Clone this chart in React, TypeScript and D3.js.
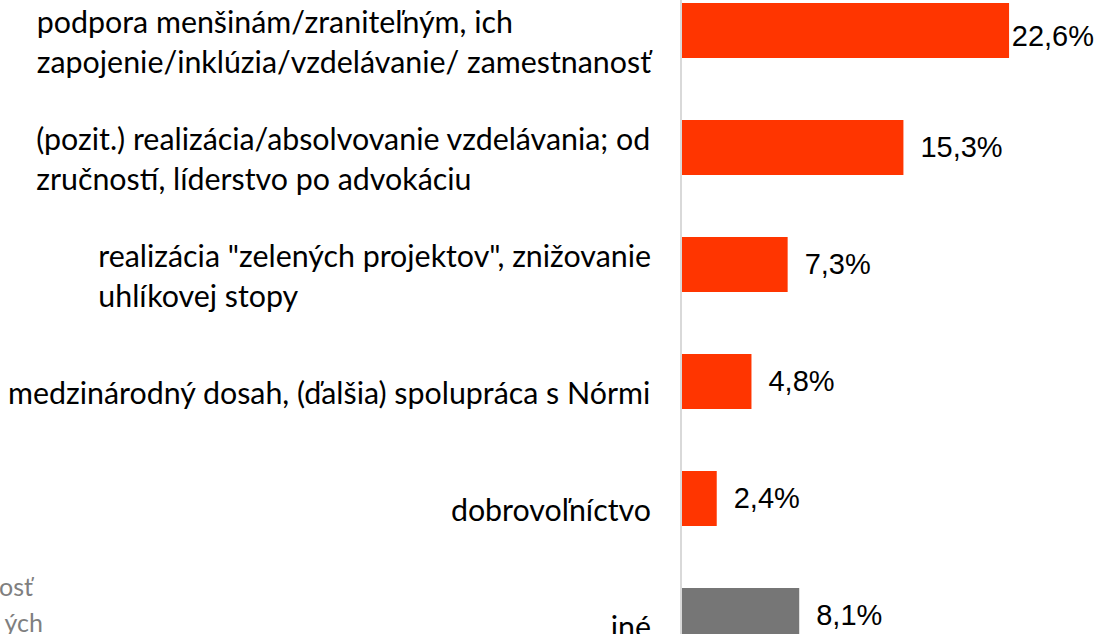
import React from "react";
import * as d3 from "d3";

const categories: string[][] = [
  ["podpora menšinám/zraniteľným, ich", "zapojenie/inklúzia/vzdelávanie/ zamestnanosť"],
  ["(pozit.) realizácia/absolvovanie vzdelávania; od", "zručností, líderstvo po advokáciu"],
  ["realizácia \"zelených projektov\", znižovanie", "uhlíkovej stopy"],
  ["medzinárodný dosah, (ďalšia) spolupráca s Nórmi"],
  ["dobrovoľníctvo"],
  ["iné"],
];
const values: number[] = [22.6, 15.3, 7.3, 4.8, 2.4, 8.1];
const highlight: boolean[] = [true, true, true, true, true, false];
const sideText: string[] = ["osť", "ých"];

const W = 1099;
const H = 634;
const LABEL_FONT = "Lato";
const VALUE_FONT = "Liberation Sans";

let ctx: CanvasRenderingContext2D | null = null;
function measure(text: string, font: string): number {
  if (!ctx) ctx = document.createElement("canvas").getContext("2d");
  if (!ctx) return text.length * 14;
  ctx.font = font;
  return ctx.measureText(text).width;
}

export default function App() {
  const ids = categories.map((_, i) => String(i));
  const y = d3
    .scaleBand<string>()
    .domain(ids)
    .range([-28, -28 + 6 * 117])
    .paddingInner(0.53)
    .paddingOuter(0.265);
  const x = d3.scaleLinear().domain([0, 25]).range([682, 1043.8]);
  const locale = d3.formatLocale({ decimal: ",", thousands: " ", grouping: [3], currency: ["", "€"] });
  const fmt = locale.format(".1f");

  // fit label font size to the Calibri-like metrics of the original
  const widest = categories[3][0];
  const labelSize = Math.min(32, (32 * 643) / measure(widest, `32px ${LABEL_FONT}`));
  const labelRight = 651;
  const lineH = 40;
  const valueSize = 29;

  return (
    <div style={{ position: "fixed", left: 0, top: 0 }}>
      <svg width={W} height={H} style={{ display: "block", background: "#fff" }}>
        {/* partially visible text from neighbouring element */}
        <g fill="#7f7f7f" fontFamily={LABEL_FONT} fontSize={25}>
          <text x={33} y={596} textAnchor="end">{sideText[0]}</text>
          <text x={43} y={632} textAnchor="end">{sideText[1]}</text>
        </g>

        {/* bars */}
        {values.map((v, i) => (
          <rect
            key={"b" + i}
            x={x(0)}
            y={y(ids[i])}
            width={x(v) - x(0)}
            height={y.bandwidth()}
            fill={highlight[i] ? "#ff3500" : "#767676"}
          />
        ))}

        {/* axis line */}
        <line x1={x(0) - 1} x2={x(0) - 1} y1={0} y2={H} stroke="#d9d9d9" strokeWidth={2} />

        {/* category labels */}
        {categories.map((lines, i) => {
          const c = (y(ids[i]) ?? 0) + y.bandwidth() / 2;
          const maxW = d3.max(lines, (l) => measure(l, `${labelSize}px ${LABEL_FONT}`)) ?? 0;
          const left = labelRight - maxW;
          const first = c + 22 - (lines.length - 1) * (lineH / 2);
          return (
            <text key={"c" + i} fontFamily={LABEL_FONT} fontSize={labelSize} fill="#000">
              {lines.map((l, j) => (
                <tspan key={j} x={left} y={first + j * lineH}>
                  {l}
                </tspan>
              ))}
            </text>
          );
        })}

        {/* value labels */}
        {values.map((v, i) => {
          const c = (y(ids[i]) ?? 0) + y.bandwidth() / 2;
          const label = fmt(v) + "%";
          const tw = measure(label, `${valueSize}px ${VALUE_FONT}`);
          let lx = x(v) + 17;
          let dy = 0;
          if (lx + tw > W - 5) {
            lx = W - 5 - tw;
            dy = 6;
          }
          return (
            <text key={"v" + i} x={lx} y={c + 9.5 + dy} fontFamily={VALUE_FONT} fontSize={valueSize} fill="#000">
              {label}
            </text>
          );
        })}
      </svg>
    </div>
  );
}
